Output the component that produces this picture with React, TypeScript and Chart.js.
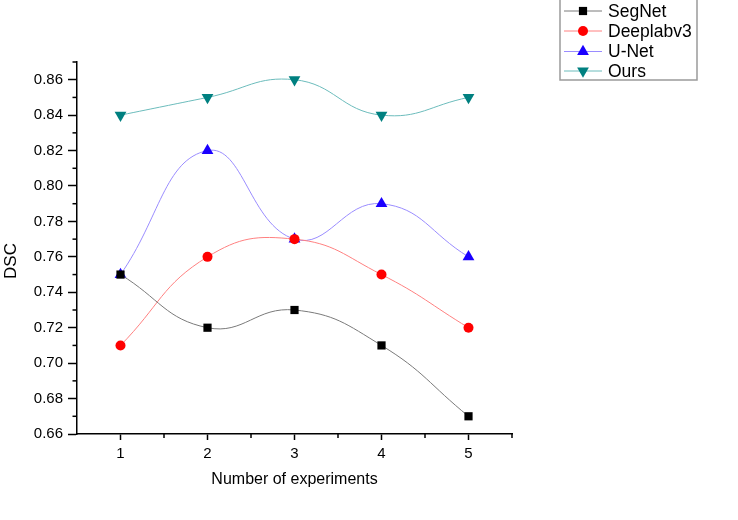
import React, { useEffect, useRef } from "react";
import { Chart, registerables } from "chart.js";

Chart.register(...registerables);

const experiments = [1, 2, 3, 4, 5];
const segNet = [0.75, 0.72, 0.73, 0.71, 0.67];
const deeplab = [0.71, 0.76, 0.77, 0.75, 0.72];
const uNet = [0.75, 0.82, 0.77, 0.79, 0.76];
const ours = [0.84, 0.85, 0.86, 0.84, 0.85];
const seriesNames = ["SegNet", "Deeplabv3", "U-Net", "Ours"];
const yTicks = [0.66, 0.68, 0.7, 0.72, 0.74, 0.76, 0.78, 0.8, 0.82, 0.84, 0.86];
const yMinorTicks = [0.67, 0.69, 0.71, 0.73, 0.75, 0.77, 0.79, 0.81, 0.83, 0.85, 0.87];
const xTicks = [1, 2, 3, 4, 5];
const xMinorTicks = [1.5, 2.5, 3.5, 4.5, 5.5];

const FONT = "'Liberation Sans', Arial, sans-serif";

const styles = [
  { marker: "#000000", line: "#7a7a7a", shape: "rect", radius: 5.8, rotation: 0 },
  { marker: "#ff0000", line: "#ff8080", shape: "circle", radius: 5, rotation: 0 },
  { marker: "#1a00ff", line: "#9a8cff", shape: "triangle", radius: 6.8, rotation: 0 },
  { marker: "#008080", line: "#6cbcbc", shape: "triangle", radius: 6.8, rotation: 180 },
];

function drawMarker(ctx: CanvasRenderingContext2D, x: number, y: number, i: number) {
  const s = styles[i];
  ctx.save();
  ctx.fillStyle = s.marker;
  ctx.beginPath();
  if (s.shape === "rect") {
    const h = Math.SQRT1_2 * s.radius;
    ctx.rect(x - h, y - h, 2 * h, 2 * h);
  } else if (s.shape === "circle") {
    ctx.arc(x, y, s.radius, 0, Math.PI * 2);
  } else {
    let rad = (s.rotation * Math.PI) / 180;
    for (let k = 0; k < 3; k++) {
      const px = x + Math.sin(rad) * s.radius;
      const py = y - Math.cos(rad) * s.radius;
      if (k === 0) ctx.moveTo(px, py);
      else ctx.lineTo(px, py);
      rad += (2 * Math.PI) / 3;
    }
    ctx.closePath();
  }
  ctx.fill();
  ctx.restore();
}

const decorPlugin = {
  id: "decor",
  afterDraw(chart: any) {
    const ctx: CanvasRenderingContext2D = chart.ctx;
    const xs = chart.scales.x;
    const ys = chart.scales.y;
    const area = chart.chartArea;
    ctx.save();
    ctx.strokeStyle = "#000";
    ctx.lineWidth = 1.5;
    // minor ticks
    yMinorTicks.forEach((v) => {
      const py = ys.getPixelForValue(v);
      ctx.beginPath();
      ctx.moveTo(area.left - 4.5, py);
      ctx.lineTo(area.left, py);
      ctx.stroke();
    });
    xMinorTicks.forEach((v) => {
      const px = xs.getPixelForValue(v);
      ctx.beginPath();
      ctx.moveTo(px, area.bottom);
      ctx.lineTo(px, area.bottom + 4);
      ctx.stroke();
    });
    // axis titles
    ctx.fillStyle = "#000";
    ctx.font = `16px ${FONT}`;
    ctx.textAlign = "center";
    ctx.textBaseline = "middle";
    ctx.fillText("Number of experiments", (area.left + area.right) / 2, 480);
    ctx.save();
    ctx.translate(11, 261);
    ctx.rotate(-Math.PI / 2);
    ctx.font = `17px ${FONT}`;
    ctx.fillText("DSC", 0, 0);
    ctx.restore();
    // legend
    ctx.strokeStyle = "#9a9a9a";
    ctx.lineWidth = 1.5;
    ctx.strokeRect(560, -5, 137, 85);
    const rowY = [11, 31, 51.5, 71];
    ctx.font = `17.5px ${FONT}`;
    ctx.textAlign = "left";
    seriesNames.forEach((name, i) => {
      const y = rowY[i];
      ctx.strokeStyle = styles[i].line;
      ctx.lineWidth = 1;
      ctx.beginPath();
      ctx.moveTo(564, y);
      ctx.lineTo(602, y);
      ctx.stroke();
      drawMarker(ctx, 583, y, i);
      ctx.fillStyle = "#000";
      ctx.fillText(name, 608, y + 1);
    });
    ctx.restore();
  },
};

export default function App() {
  const ref = useRef<HTMLCanvasElement>(null);
  useEffect(() => {
    if (!ref.current) return;
    const all = [segNet, deeplab, uNet, ours];
    const chart = new Chart(ref.current, {
      type: "line",
      data: {
        datasets: all.map((vals, i) => ({
          label: seriesNames[i],
          data: vals.map((v, j) => ({ x: experiments[j], y: v })),
          borderColor: styles[i].line,
          backgroundColor: styles[i].marker,
          pointBackgroundColor: styles[i].marker,
          pointBorderColor: styles[i].marker,
          pointBorderWidth: 0,
          pointStyle: styles[i].shape as any,
          pointRadius: styles[i].radius,
          pointRotation: styles[i].rotation,
          borderWidth: 1,
          tension: 0.45,
          fill: false,
        })),
      },
      options: {
        animation: false,
        responsive: false,
        layout: { padding: { left: 0, top: 62, right: 226, bottom: 0 } },
        plugins: { legend: { display: false }, tooltip: { enabled: false } },
        scales: {
          x: {
            type: "linear",
            min: 0.5,
            max: 5.5,
            afterBuildTicks: (s: any) => {
              s.ticks = xTicks.map((v) => ({ value: v }));
            },
            afterFit: (s: any) => {
              s.height = 86;
            },
            ticks: {
              color: "#000",
              font: { family: FONT, size: 15 },
              padding: 5,
              maxRotation: 0,
              callback: (v: any) => String(v),
            },
            grid: { drawOnChartArea: false, drawTicks: true, tickLength: 6, tickColor: "#000", tickWidth: 1.5 },
            border: { display: true, color: "#000", width: 1.5 },
          },
          y: {
            type: "linear",
            min: 0.66,
            max: 0.87,
            afterBuildTicks: (s: any) => {
              s.ticks = yTicks.map((v) => ({ value: v }));
            },
            afterFit: (s: any) => {
              s.width = 77;
            },
            ticks: {
              color: "#000",
              font: { family: FONT, size: 15 },
              padding: 5,
              callback: (v: any) => Number(v).toFixed(2),
            },
            grid: { drawOnChartArea: false, drawTicks: true, tickLength: 9, tickColor: "#000", tickWidth: 1.5 },
            border: { display: true, color: "#000", width: 1.5 },
          },
        },
      },
      plugins: [decorPlugin],
    });
    return () => chart.destroy();
  }, []);
  return (
    <div style={{ position: "absolute", left: 0, top: 0, width: 738, height: 520, background: "#fff" }}>
      <canvas ref={ref} width={738} height={520} style={{ width: 738, height: 520 }} />
    </div>
  );
}
